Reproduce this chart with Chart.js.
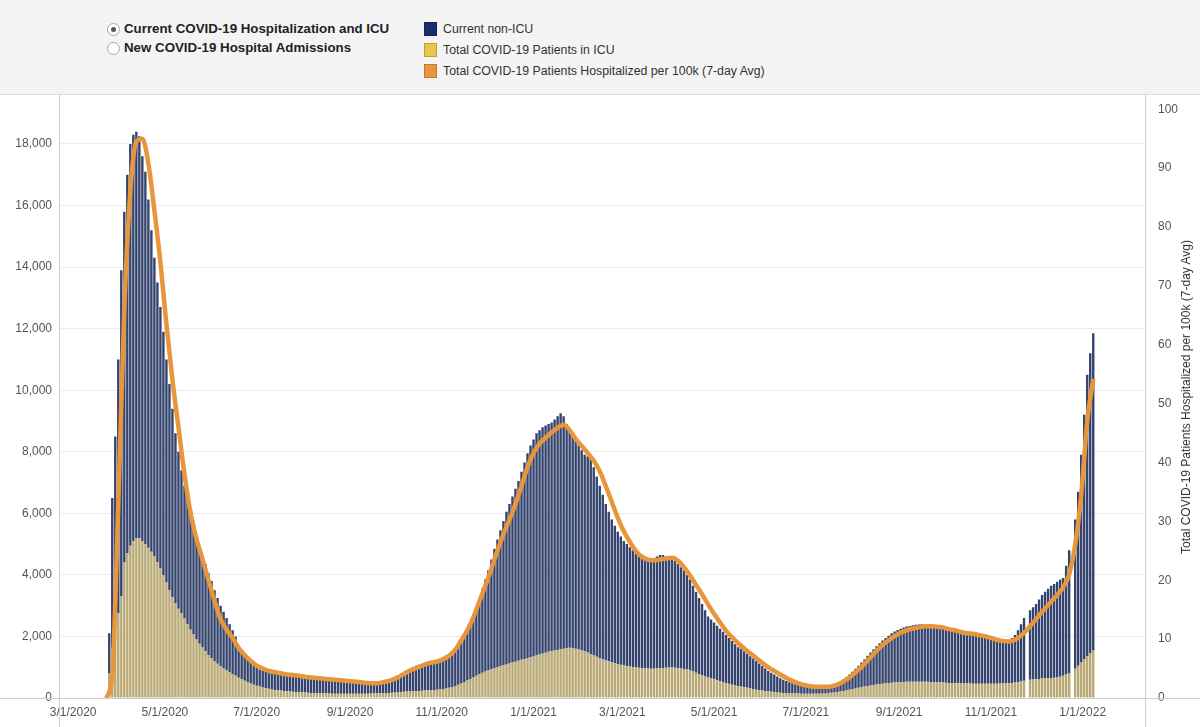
<!DOCTYPE html>
<html>
<head>
<meta charset="utf-8">
<script src="https://cdn.jsdelivr.net/npm/chart.js@4.4.1/dist/chart.umd.min.js"></script>
<style>
  body { margin: 0; width: 1200px; height: 727px; overflow: hidden; background: #fff;
         font-family: "Liberation Sans", Arial, sans-serif; }
  #top { position: absolute; left: 0; top: 0; width: 1200px; height: 95px; background: #f4f4f4;
         border-bottom: 1px solid #dcdcdc; box-sizing: border-box; }
  .radio { position: absolute; left: 107px; width: 13px; height: 13px; border: 1px solid #a8a8a8;
           border-radius: 50%; background: #fff; box-sizing: border-box; }
  .radio.on::after { content: ""; position: absolute; left: 3px; top: 3px; width: 5px; height: 5px;
           border-radius: 50%; background: #555; }
  .rlabel { position: absolute; left: 124px; font-weight: bold; font-size: 13.3px; color: #222; line-height: 16px; }
  .sw { position: absolute; left: 424px; width: 13px; height: 14px; box-sizing: border-box;
        border: 1px solid rgba(0,0,0,0.18); }
  .ltxt { position: absolute; left: 443px; font-size: 12.3px; color: #333; line-height: 16px; }
  #wrap { position: absolute; left: 0; top: 95px; width: 1200px; height: 632px; }
  #ytitle { position: absolute; left: 1186px; top: 397px; transform: translate(-50%, -50%) rotate(-90deg);
            white-space: nowrap; font-size: 12px; color: #333; }
</style>
</head>
<body>
<div id="top">
  <div class="radio on" style="top:23px"></div>
  <div class="rlabel" style="top:21px">Current COVID-19 Hospitalization and ICU</div>
  <div class="radio" style="top:42px"></div>
  <div class="rlabel" style="top:40px">New COVID-19 Hospital Admissions</div>

  <div class="sw" style="top:22px;background:#1b2b6c"></div>
  <div class="ltxt" style="top:21px">Current non-ICU</div>
  <div class="sw" style="top:43px;background:#e9c54a"></div>
  <div class="ltxt" style="top:42px">Total COVID-19 Patients in ICU</div>
  <div class="sw" style="top:64px;background:#e8953b"></div>
  <div class="ltxt" style="top:63px">Total COVID-19 Patients Hospitalized per 100k (7-day Avg)</div>
</div>
<div id="wrap"><canvas id="chart" width="1200" height="632"></canvas></div>
<div id="ytitle">Total COVID-19 Patients Hospitalized per 100k (7-day Avg)</div>

<script>
// days are counted from 3/1/2020; bars every 2nd day starting 3/25/2020
var firstDay = 24;
var dayStep = 2;

// total hospitalized (top of each bar)
var totalHosp = [
  2100, 6500, 8500, 11000, 13900, 15800, 17000, 18000, 18300, 18400,
  18250, 17600, 17100, 16200, 15200, 14300, 13500, 12700, 11900, 11000,
  10200, 9400, 8600, 8000, 7400, 6900, 6450, 6000, 5600, 5250,
  4900, 4600, 4350, 4050, 3800, 3500, 3250, 3000, 2800, 2600,
  2400, 2200, 2000, 1700, 1550, 1400, 1250, 1150, 1050, 980,
  930, 900, 880, 860, 840, 820, 800, 790, 780, 760,
  750, 730, 720, 700, 690, 680, 670, 660, 650, 640,
  630, 620, 610, 600, 590, 580, 570, 560, 550, 540,
  520, 510, 500, 490, 480, 470, 470, 480, 490, 500,
  520, 540, 570, 600, 640, 690, 740, 800, 850, 900,
  950, 1000, 1050, 1080, 1100, 1120, 1150, 1180, 1200, 1230,
  1260, 1300, 1350, 1420, 1500, 1600, 1700, 1850, 2000, 2150,
  2450, 2700, 2950, 3250, 3550, 3850, 4150, 4500, 4850, 5150,
  5450, 5750, 6050, 6300, 6550, 6800, 7050, 7350, 7650, 7950,
  8200, 8400, 8600, 8700, 8800, 8850, 8900, 8950, 9050, 9150,
  9250, 9150, 8900, 8700, 8500, 8350, 8200, 8050, 7900, 7850,
  7800, 7500, 7200, 6900, 6600, 6300, 6050, 5800, 5600, 5400,
  5250, 5100, 5000, 4900, 4800, 4700, 4650, 4600, 4550, 4550,
  4550, 4550, 4600, 4650, 4650, 4600, 4550, 4500, 4450, 4350,
  4250, 4150, 4000, 3850, 3650, 3450, 3250, 3050, 2850, 2650,
  2550, 2450, 2350, 2250, 2150, 2050, 1950, 1850, 1750, 1650,
  1600, 1520, 1440, 1360, 1280, 1200, 1120, 1040, 960, 880,
  820, 760, 700, 640, 590, 550, 510, 480, 450, 420,
  400, 380, 370, 360, 350, 350, 350, 360, 370, 390,
  420, 460, 500, 550, 610, 680, 760, 850, 950, 1050,
  1150, 1260, 1370, 1480, 1580, 1680, 1780, 1870, 1950, 2020,
  2100, 2160, 2210, 2250, 2290, 2320, 2340, 2360, 2380, 2390,
  2400, 2400, 2390, 2380, 2370, 2350, 2330, 2300, 2280, 2260,
  2240, 2220, 2200, 2180, 2170, 2160, 2150, 2140, 2130, 2110,
  2080, 2050, 2020, 1990, 1960, 1930, 1900, 1880, 1870, 1880,
  1950, 2050, 2200, 2400, 2600, null, 2850, 2950, 3050, 3200,
  3350, 3450, 3550, 3650, 3700, 3780, 3850, 3900, 4300, 4800,
  null, 5800, 6700, 7900, 9200, 10500, 11200, 11850
];

// patients in ICU (bottom part of each bar)
var icuPatients = [
  800, 1600, 2700, 2750, 3300, 4400, 4700, 4950, 5100, 5200,
  5200, 5100, 5000, 4880, 4750, 4600, 4420, 4220, 4000, 3750,
  3500, 3280, 3080, 2900, 2750, 2580, 2400, 2220, 2060, 1900,
  1760, 1640, 1520, 1400, 1300, 1200, 1110, 1030, 960, 900,
  840, 780, 720, 660, 610, 560, 510, 470, 430, 400,
  370, 340, 320, 300, 280, 260, 250, 240, 230, 220,
  210, 200, 190, 185, 180, 175, 170, 165, 160, 160,
  155, 150, 150, 145, 140, 140, 140, 135, 135, 135,
  135, 135, 135, 135, 140, 140, 140, 145, 145, 150,
  150, 155, 160, 165, 170, 175, 180, 190, 200, 210,
  215, 220, 225, 230, 235, 240, 245, 250, 255, 265,
  275, 290, 310, 330, 360, 390, 430, 470, 520, 570,
  620, 670, 720, 770, 820, 860, 900, 940, 970, 1000,
  1030, 1060, 1090, 1120, 1150, 1180, 1210, 1240, 1270, 1290,
  1320, 1350, 1380, 1410, 1440, 1470, 1500, 1520, 1540, 1560,
  1580, 1600, 1620, 1630, 1620, 1600, 1580, 1560, 1520, 1480,
  1420, 1380, 1340, 1300, 1260, 1220, 1190, 1160, 1130, 1100,
  1080, 1060, 1040, 1020, 1000, 990, 980, 970, 960, 955,
  950, 950, 955, 960, 970, 980, 990, 990, 985, 975,
  960, 945, 925, 900, 860, 820, 780, 740, 700, 670,
  640, 610, 580, 550, 520, 490, 460, 430, 410, 390,
  370, 350, 330, 310, 290, 270, 255, 240, 225, 210,
  200, 190, 180, 170, 165, 160, 155, 150, 150, 145,
  140, 140, 135, 135, 135, 135, 140, 145, 150, 160,
  170, 180, 195, 210, 230, 250, 270, 290, 310, 330,
  350, 370, 390, 410, 425, 440, 455, 465, 475, 485,
  495, 505, 510, 515, 520, 525, 525, 530, 530, 530,
  530, 530, 525, 520, 515, 510, 505, 500, 495, 490,
  485, 480, 480, 475, 475, 470, 470, 465, 465, 465,
  465, 465, 465, 465, 465, 465, 470, 470, 475, 480,
  490, 505, 520, 540, 560, null, 590, 600, 610, 620,
  630, 635, 640, 650, 660, 670, 690, 720, 760, 800,
  null, 950, 1050, 1150, 1250, 1350, 1450, 1540
];

// 7-day avg per 100k, every 4th day starting 3/23/2020
var lineFirstDay = 22;
var lineStep = 4;
var hospPer100k = [
  0, 4, 33, 66, 86, 94.5, 95, 90.8, 82.8, 74,
  63.5, 54, 46, 38, 31.5, 27, 23.6, 20, 16.5, 13.4,
  11.6, 10.2, 8.5, 7.3, 6.3, 5.5, 5.0, 4.6, 4.4, 4.2,
  4.0, 3.9, 3.8, 3.6, 3.5, 3.4, 3.3, 3.2, 3.1, 3.0,
  2.9, 2.8, 2.7, 2.6, 2.5, 2.5, 2.7, 2.9, 3.3, 3.8,
  4.4, 4.9, 5.3, 5.7, 6.0, 6.2, 6.6, 7.2, 8.2, 9.8,
  11.5, 13.7, 16.4, 19.1, 22.0, 25.0, 27.8, 30.3, 33.0, 36.0,
  39.2, 41.6, 43.2, 44.2, 45.1, 45.9, 46.4, 45.5, 44.0, 42.8,
  41.6, 40.3, 38.5, 36.0, 33.3, 30.6, 28.3, 26.5, 25.0, 24.0,
  23.5, 23.4, 23.5, 23.7, 23.8, 23.3, 22.2, 20.8, 19.2, 17.6,
  15.9, 14.3, 12.8, 11.4, 10.3, 9.3, 8.4, 7.6, 6.8, 6.0,
  5.2, 4.6, 4.0, 3.4, 2.9, 2.5, 2.2, 2.0, 1.9, 1.9,
  1.9, 2.1, 2.5, 3.1, 3.9, 4.8, 5.8, 6.9, 8.0, 9.0,
  9.8, 10.5, 11.1, 11.5, 11.8, 12.0, 12.2, 12.2, 12.1, 12.0,
  11.7, 11.5, 11.2, 11.0, 10.9, 10.7, 10.5, 10.2, 9.9, 9.7,
  9.6, 9.9, 10.6, 11.6, 12.8, 14.0, 15.2, 16.4, 17.5, 18.8,
  21.0, 26.0, 34.5, 47.0, 54.2
];

var tickDays = [0, 61, 122, 184, 245, 306, 365, 426, 487, 549, 610, 671];
var tickLabels = ["3/1/2020", "5/1/2020", "7/1/2020", "9/1/2020", "11/1/2020", "1/1/2021",
                  "3/1/2021", "5/1/2021", "7/1/2021", "9/1/2021", "11/1/2021", "1/1/2022"];
var leftTicks = [0, 2000, 4000, 6000, 8000, 10000, 12000, 14000, 16000, 18000];

var icuData = icuPatients.map(function (v, i) {
  return { x: firstDay + i * dayStep, y: v };
});
var nonIcuData = totalHosp.map(function (v, i) {
  return { x: firstDay + i * dayStep, y: v == null ? null : v - icuPatients[i] };
});
var lineData = hospPer100k.map(function (v, i) {
  return { x: lineFirstDay + i * lineStep, y: v };
});

// axis frame lines like the dashboard (full height verticals, full width baseline)
var frame = {
  id: "frame",
  beforeDatasetsDraw: function (chart) {
    var c = chart.ctx, a = chart.chartArea;
    c.save();
    c.strokeStyle = "#cfcfcf";
    c.lineWidth = 1;
    c.beginPath();
    c.moveTo(Math.floor(a.left) + 0.5, 0);
    c.lineTo(Math.floor(a.left) + 0.5, chart.height);
    c.moveTo(Math.floor(a.right) + 0.5, 0);
    c.lineTo(Math.floor(a.right) + 0.5, chart.height);
    c.moveTo(0, Math.round(a.bottom) + 0.5);
    c.lineTo(chart.width, Math.round(a.bottom) + 0.5);
    c.stroke();
    c.restore();
  }
};

var tickFont = { size: 12, family: "'Liberation Sans', Arial, sans-serif" };

var ctx = document.getElementById("chart").getContext("2d");
var hospChart = new Chart(ctx, {
  type: "bar",
  data: {
    datasets: [
      {
        type: "line",
        label: "Total COVID-19 Patients Hospitalized per 100k (7-day Avg)",
        data: lineData,
        yAxisID: "y1",
        borderColor: "#e8963c",
        borderWidth: 4.5,
        pointRadius: 0,
        cubicInterpolationMode: "monotone",
        order: 0
      },
      {
        label: "Total COVID-19 Patients in ICU",
        data: icuData,
        backgroundColor: "#b9a975",
        stack: "hosp",
        order: 1
      },
      {
        label: "Current non-ICU",
        data: nonIcuData,
        backgroundColor: "#34446f",
        stack: "hosp",
        order: 1
      }
    ]
  },
  options: {
    responsive: false,
    animation: false,
    layout: { padding: { top: 7 } },
    plugins: { legend: { display: false }, tooltip: { enabled: false } },
    datasets: { bar: { barPercentage: 0.8, categoryPercentage: 1 } },
    scales: {
      x: {
        type: "linear",
        offset: false,
        min: -9.4,
        max: 712.4,
        stacked: true,
        grid: { display: false, offset: false, drawTicks: false },
        border: { display: false },
        afterBuildTicks: function (s) {
          s.ticks = tickDays.map(function (d) { return { value: d }; });
        },
        afterFit: function (s) { s.height = 29; },
        ticks: {
          autoSkip: false,
          maxRotation: 0,
          padding: 7,
          color: "#555",
          font: tickFont,
          callback: function (v) { return tickLabels[tickDays.indexOf(v)]; }
        }
      },
      y: {
        position: "left",
        stacked: true,
        min: 0,
        max: 19130,
        grid: { color: "#ececec", drawTicks: false },
        border: { display: false },
        afterBuildTicks: function (s) {
          s.ticks = leftTicks.map(function (v) { return { value: v }; });
        },
        afterFit: function (s) { s.width = 59; },
        ticks: {
          autoSkip: false,
          padding: 7,
          color: "#555",
          font: tickFont,
          callback: function (v) { return v.toLocaleString("en-US"); }
        }
      },
      y1: {
        position: "right",
        min: 0,
        max: 100,
        grid: { display: false },
        border: { display: false },
        afterFit: function (s) { s.width = 55; },
        ticks: {
          stepSize: 10,
          padding: 5,
          color: "#555",
          font: tickFont
        }
      }
    }
  },
  plugins: [frame]
});
</script>
</body>
</html>
